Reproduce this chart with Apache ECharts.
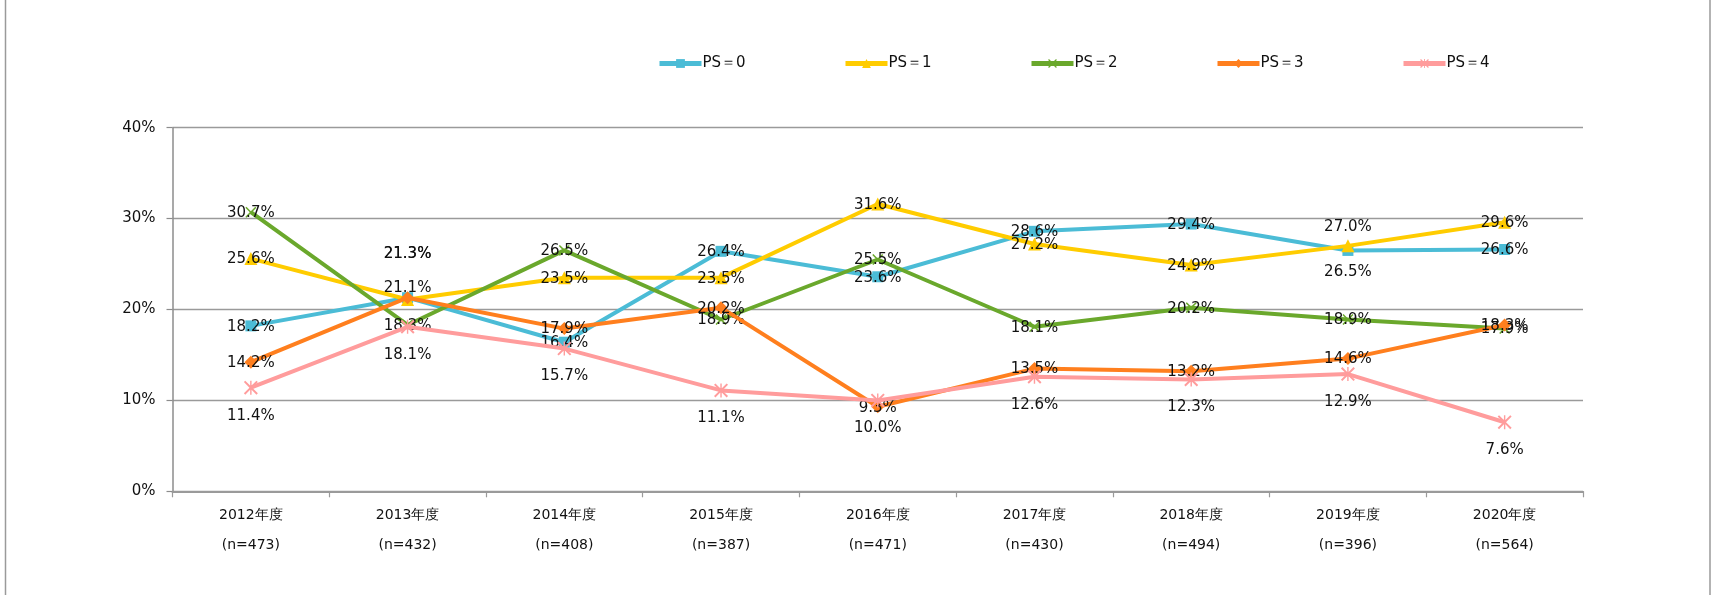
<!DOCTYPE html>
<html>
<head>
<meta charset="utf-8">
<script src="https://cdn.jsdelivr.net/npm/echarts@6/dist/echarts.min.js"></script>
<style>
html,body{margin:0;padding:0;background:#fff;}
#c{width:1712px;height:595px;}
</style>
</head>
<body>
<div id="c"></div>
<script>
// ---- data ----
const categories = ['2012年度','2013年度','2014年度','2015年度','2016年度','2017年度','2018年度','2019年度','2020年度'];
const sampleSizes = ['(n=473)','(n=432)','(n=408)','(n=387)','(n=471)','(n=430)','(n=494)','(n=396)','(n=564)'];
const seriesNames = ['PS＝0','PS＝1','PS＝2','PS＝3','PS＝4'];
const ps0 = [18.2, 21.3, 16.4, 26.4, 23.6, 28.6, 29.4, 26.5, 26.6];
const ps1 = [25.6, 21.1, 23.5, 23.5, 31.6, 27.2, 24.9, 27.0, 29.6];
const ps2 = [30.7, 18.3, 26.5, 18.9, 25.5, 18.1, 20.2, 18.9, 17.9];
const ps3 = [14.2, 21.3, 17.9, 20.2, 9.3, 13.5, 13.2, 14.6, 18.3];
const ps4 = [11.4, 18.1, 15.7, 11.1, 10.0, 12.6, 12.3, 12.9, 7.6];
const yTicks = [0, 10, 20, 30, 40];

// ---- styles ----
const colors = ['#4BBCD6', '#FFCC00', '#6AA82C', '#FF7F1E', '#FF9C9C'];
const xPath = 'path://M0,1 L1,0 L5,4 L9,0 L10,1 L6,5 L10,9 L9,10 L5,6 L1,10 L0,9 L4,5 Z';
const starPath = 'path://M0,1 L1,0 L5,4 L9,0 L10,1 L6,5 L10,9 L9,10 L5,6 L1,10 L0,9 L4,5 Z M4.5,0 L5.5,0 L5.5,10 L4.5,10 Z';
const symbols = ['rect', 'triangle', xPath, 'diamond', starPath];
const symbolSizes = [11, 13, 11, 13, 14];
// label vertical offsets (px) per series: default, plus per-category overrides
const labelDefaultDy = [1, 1, 1, 1, 28];
const labelOverrides = [{1: -44, 7: 22}, {1: -11, 7: -19}, {}, {1: -44}, {}];

const allData = [ps0, ps1, ps2, ps3, ps4];

const chart = echarts.init(document.getElementById('c'), null, {renderer: 'canvas'});
const FONT = 'DejaVu Sans, Verdana, sans-serif';

const series = allData.map((vals, si) => ({
  name: seriesNames[si],
  type: 'line',
  data: vals.map((v, ci) => {
    const dy = (labelOverrides[si][ci] !== undefined) ? labelOverrides[si][ci] : labelDefaultDy[si];
    return {value: v, label: {offset: [0, dy]}};
  }),
  symbol: symbols[si],
  symbolSize: symbolSizes[si],
  showAllSymbol: true,
  lineStyle: {color: colors[si], width: 4},
  itemStyle: {color: colors[si]},
  label: {
    show: true,
    position: 'inside',
    formatter: p => p.value.toFixed(1) + '%',
    color: '#111',
    fontSize: 15,
    fontFamily: FONT,
    textBorderWidth: 0
  },
  emphasis: {disabled: true},
  animation: false,
  z: 2 + si
}));

const legendLeft = 652, legendStep = 186;
const legends = seriesNames.map((n, i) => ({
  data: [n],
  left: legendLeft + legendStep * i,
  top: 51,
  itemWidth: 42,
  itemHeight: 11,
  itemGap: 2,
  lineStyle: {width: 5},
  textStyle: {fontSize: 15, fontFamily: FONT, color: '#111', padding: [0, 0, 0, -4]},
  selectedMode: false
}));

chart.setOption({
  backgroundColor: '#fff',
  animation: false,
  legend: legends,
  grid: {left: 172.5, right: 129, top: 127.7, bottom: 103.7, containLabel: false},
  xAxis: {
    type: 'category',
    data: categories,
    boundaryGap: true,
    axisLine: {show: true, lineStyle: {color: '#9a9a9a', width: 2}},
    axisTick: {show: true, length: 6, lineStyle: {color: '#9a9a9a', width: 1.2}},
    axisLabel: {
      interval: 0,
      margin: 9,
      fontSize: 14,
      fontFamily: FONT,
      color: '#111',
      lineHeight: 30,
      formatter: (v, i) => v + '\n' + sampleSizes[i]
    }
  },
  yAxis: {
    type: 'value',
    min: yTicks[0],
    max: yTicks[yTicks.length - 1],
    interval: yTicks[1] - yTicks[0],
    axisLine: {show: true, lineStyle: {color: '#8c8c8c', width: 1.5}},
    axisTick: {show: true, length: 6, lineStyle: {color: '#8c8c8c', width: 1.2}},
    splitLine: {show: true, lineStyle: {color: '#9a9a9a', width: 1.3}},
    axisLabel: {formatter: '{value}%', fontSize: 15, fontFamily: FONT, color: '#111', margin: 17}
  },
  graphic: [{
    type: 'rect',
    shape: {x: 5.5, y: -10, width: 1704.5, height: 620},
    style: {fill: 'none', stroke: '#9a9a9a', lineWidth: 1.5},
    silent: true
  }],
  series: series
});
</script>
</body>
</html>
